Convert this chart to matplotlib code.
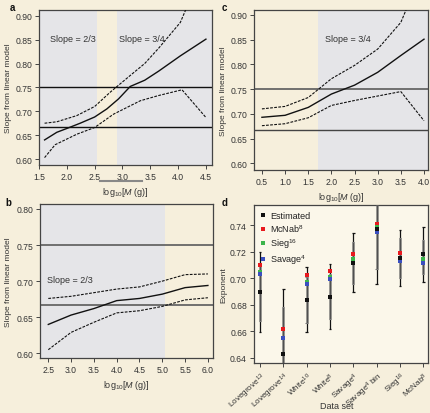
import matplotlib
matplotlib.use("Agg")
import matplotlib.pyplot as plt
from matplotlib.lines import Line2D
import numpy as np

plt.rcParams['font.family'] = ['Liberation Sans', 'DejaVu Sans']
plt.rcParams['mathtext.fontset'] = 'custom'
plt.rcParams['mathtext.rm'] = 'Liberation Sans'
plt.rcParams['mathtext.it'] = 'Liberation Sans:italic'

# ---- Panel a data ----
a_x_mid = [1.6, 1.82, 2.0, 2.24, 2.5, 2.72, 2.93, 3.14, 3.4, 3.65, 4.04, 4.5]
a_mid = [0.640, 0.656, 0.664, 0.675, 0.688, 0.705, 0.726, 0.752, 0.765, 0.784, 0.816, 0.851]
a_x_up = [1.6, 1.82, 2.18, 2.5, 2.78, 3.14, 3.4, 3.65, 4.04, 4.2]
a_up = [0.675, 0.678, 0.691, 0.710, 0.740, 0.775, 0.800, 0.832, 0.886, 0.930]
a_x_lo = [1.6, 1.79, 2.18, 2.5, 2.84, 3.32, 3.65, 4.07, 4.5]
a_lo = [0.603, 0.630, 0.652, 0.666, 0.694, 0.722, 0.733, 0.745, 0.687]

# ---- Panel b data ----
b_x = [2.5, 3.0, 3.5, 4.0, 4.5, 5.0, 5.5, 6.0]
b_mid = [0.640, 0.653, 0.662, 0.673, 0.676, 0.682, 0.691, 0.694]
b_up = [0.676, 0.679, 0.684, 0.689, 0.692, 0.700, 0.709, 0.710]
b_lo = [0.605, 0.629, 0.643, 0.656, 0.659, 0.665, 0.674, 0.677]

# ---- Panel c data ----
c_x = [0.5, 1.0, 1.5, 2.0, 2.5, 3.0, 3.5, 4.0]
c_mid = [0.693, 0.697, 0.713, 0.740, 0.758, 0.784, 0.818, 0.851]
c_x_up = [0.5, 1.0, 1.5, 2.0, 2.5, 3.0, 3.5, 3.7]
c_up = [0.710, 0.715, 0.733, 0.771, 0.798, 0.831, 0.885, 0.930]
c_lo = [0.676, 0.680, 0.692, 0.717, 0.727, 0.736, 0.745, 0.686]

# ---- Panel d data ----
d_labels = ['Lovegrove$^{13}$', 'Lovegrove$^{14}$', 'White$^{10}$', 'White$^{8}$',
            'Savage$^{4}$', 'Savage$^{4}$ bin', 'Sieg$^{16}$', 'McNab$^{8}$']
d_est = [0.6896, 0.643, 0.6838, 0.6861, 0.7115, 0.737, 0.7156, 0.7183]
d_mcnab = [0.710, 0.6617, 0.7022, 0.7055, 0.7183, 0.7415, 0.7193, 0.7183]
d_sieg = [0.705, 0.655, 0.6969, 0.7012, 0.7143, 0.7385, 0.7156, 0.7143]
d_savage = [0.7032, 0.6546, 0.6954, 0.6992, 0.7118, 0.7352, 0.713, 0.7118]
d_outer_hi = [0.720, 0.6916, 0.7083, 0.7105, 0.734, 0.778, 0.7367, 0.7392]
d_outer_lo = [0.6594, 0.594, 0.6594, 0.6617, 0.6894, 0.6954, 0.6944, 0.6974]
d_inner_hi = [0.711, 0.678, 0.701, 0.703, 0.7277, 0.767, 0.7304, 0.7294]
d_inner_lo = [0.668, 0.608, 0.6665, 0.669, 0.6957, 0.7073, 0.7005, 0.7035]

BG = '#f6efdc'
SHADE = '#e5e5e8'
FS = 6.5
TS = 6.2

fig = plt.figure(figsize=(4.31, 4.14), dpi=100, facecolor=BG)

def style(ax):
    ax.set_facecolor('none')
    for s in ax.spines.values():
        s.set_color('#444444')
        s.set_linewidth(0.9)
    ax.tick_params(labelsize=TS, length=3, width=0.7, color='#444444',
                   labelcolor='#333333', pad=2)

def curves(ax, xm, ym, xu, yu, xl, yl):
    ax.plot(xm, ym, color='#111111', lw=1.0, zorder=3)
    ax.plot(xu, yu, color='#111111', lw=0.8, ls=(0, (2.5, 1.2)), zorder=3)
    ax.plot(xl, yl, color='#111111', lw=0.8, ls=(0, (2.5, 1.2)), zorder=3)

xlabel = r'log$_{10}$[$M$ (g)]'
YL = 6

# Panel a
ax_a = fig.add_axes([0.0905, 0.599, 0.4015, 0.3744])
style(ax_a)
ax_a.set_xlim(1.5, 4.61)
ax_a.set_ylim(0.5875, 0.912)
ax_a.axvspan(1.5, 2.55, color=SHADE, zorder=0, lw=0)
ax_a.axvspan(2.9, 4.61, color=SHADE, zorder=0, lw=0)
ax_a.axhline(0.75, color='#111111', lw=1.0, zorder=2)
ax_a.axhline(2/3, color='#111111', lw=1.0, zorder=2)
curves(ax_a, a_x_mid, a_mid, a_x_up, a_up, a_x_lo, a_lo)
ax_a.set_xticks(np.arange(1.5, 4.51, 0.5))
ax_a.set_yticks(np.arange(0.60, 0.901, 0.05))
ax_a.set_xticklabels([f'{v:.1f}' for v in np.arange(1.5, 4.51, 0.5)])
ax_a.set_yticklabels([f'{v:.2f}' for v in np.arange(0.60, 0.901, 0.05)])
ax_a.text(2.1, 0.853, 'Slope = 2/3', fontsize=FS, ha='center', va='center', color='#333333')
ax_a.text(3.35, 0.853, 'Slope = 3/4', fontsize=FS, ha='center', va='center', color='#333333')
ax_a.set_xlabel(xlabel, fontsize=FS, color='#333333', labelpad=3)
ax_a.set_ylabel('Slope from linear model', fontsize=YL, color='#333333')
ax_a.yaxis.set_label_coords(-0.156, 0.5)
fig.add_artist(Line2D([100/431, 142/431], [1-182/414, 1-182/414], color='#888888', lw=1.5))

# Panel c
ax_c = fig.add_axes([0.590, 0.5877, 0.403, 0.3857])
style(ax_c)
ax_c.set_xlim(0.335, 4.086)
ax_c.set_ylim(0.587, 0.91)
ax_c.axvspan(1.72, 4.086, color=SHADE, zorder=0, lw=0)
ax_c.axhline(0.75, color='#666666', lw=1.3, zorder=2)
ax_c.axhline(2/3, color='#444444', lw=1.0, zorder=2)
curves(ax_c, c_x, c_mid, c_x_up, c_up, c_x, c_lo)
ax_c.set_xticks(np.arange(0.5, 4.01, 0.5))
ax_c.set_xticklabels([f'{v:.1f}' for v in np.arange(0.5, 4.01, 0.5)])
ax_c.set_yticks(np.arange(0.60, 0.901, 0.05))
ax_c.set_yticklabels([f'{v:.2f}' for v in np.arange(0.60, 0.901, 0.05)])
ax_c.text(2.36, 0.853, 'Slope = 3/4', fontsize=FS, ha='center', va='center', color='#333333')
ax_c.set_xlabel(xlabel, fontsize=FS, color='#333333', labelpad=3)
ax_c.set_ylabel('Slope from linear model', fontsize=YL, color='#333333')
ax_c.yaxis.set_label_coords(-0.157, 0.5)

# Panel b
ax_b = fig.add_axes([0.0928, 0.132, 0.4012, 0.373])
style(ax_b)
ax_b.set_xlim(2.318, 6.11)
ax_b.set_ylim(0.593, 0.807)
ax_b.axvspan(2.318, 5.07, color=SHADE, zorder=0, lw=0)
ax_b.axhline(0.75, color='#666666', lw=1.3, zorder=2)
ax_b.axhline(2/3, color='#666666', lw=1.3, zorder=2)
curves(ax_b, b_x, b_mid, b_x, b_up, b_x, b_lo)
ax_b.set_xticks(np.arange(2.5, 6.01, 0.5))
ax_b.set_xticklabels([f'{v:.1f}' for v in np.arange(2.5, 6.01, 0.5)])
ax_b.set_yticks(np.arange(0.60, 0.801, 0.05))
ax_b.set_yticklabels([f'{v:.2f}' for v in np.arange(0.60, 0.801, 0.05)])
ax_b.text(2.97, 0.702, 'Slope = 2/3', fontsize=FS, ha='center', va='center', color='#333333')
ax_b.set_xlabel(xlabel, fontsize=FS, color='#333333', labelpad=3)
ax_b.set_ylabel('Slope from linear model', fontsize=YL, color='#333333')
ax_b.yaxis.set_label_coords(-0.162, 0.5)

# Panel d
ax_d = fig.add_axes([0.589, 0.1208, 0.404, 0.3816])
style(ax_d)
ax_d.set_facecolor('#fbf7ea')
xs = np.arange(len(d_labels))
ax_d.set_xlim(-0.26, 7.2)
ax_d.set_ylim(0.636, 0.7555)
ax_d.vlines(xs, d_outer_lo, d_outer_hi, color='#111111', lw=0.9, zorder=2)
ax_d.hlines(d_outer_lo, xs - 0.06, xs + 0.06, color='#111111', lw=0.9, zorder=2)
ax_d.hlines(d_outer_hi, xs - 0.06, xs + 0.06, color='#111111', lw=0.9, zorder=2)
ax_d.vlines(xs, d_inner_lo, d_inner_hi, color='#666666', lw=1.8, alpha=0.75, zorder=3)
ax_d.hlines(d_inner_lo, xs - 0.05, xs + 0.05, color='#777777', lw=0.8, zorder=3)
ax_d.hlines(d_inner_hi, xs - 0.05, xs + 0.05, color='#777777', lw=0.8, zorder=3)
ms = 2.8
ax_d.plot(xs, d_mcnab, 's', color='#e8191e', ms=ms, mew=0, zorder=4, label='McNab$^{8}$')
ax_d.plot(xs, d_sieg, 's', color='#3cb44b', ms=ms, mew=0, zorder=5, label='Sieg$^{16}$')
ax_d.plot(xs, d_savage, 's', color='#3a4fc0', ms=ms, mew=0, zorder=6, label='Savage$^{4}$')
ax_d.plot(xs, d_est, 's', color='#111111', ms=ms, mew=0, zorder=7, label='Estimated')
handles, labs = ax_d.get_legend_handles_labels()
order = [3, 0, 1, 2]
leg = ax_d.legend([handles[i] for i in order], [labs[i] for i in order], loc='upper left',
                  frameon=False, fontsize=FS, handlelength=0.6, handletextpad=0.5,
                  labelspacing=0.25, borderaxespad=0.3)
for t in leg.get_texts():
    t.set_color('#222222')
ax_d.set_xticks(xs)
ax_d.set_xticklabels(d_labels, rotation=42, ha='right', rotation_mode='anchor', fontsize=5.9)
ax_d.set_yticks(np.arange(0.64, 0.741, 0.02))
ax_d.set_yticklabels([f'{v:.2f}' for v in np.arange(0.64, 0.741, 0.02)])
ax_d.set_ylabel('Exponent', fontsize=YL, color='#333333')
ax_d.yaxis.set_label_coords(-0.15, 0.5)
fig.text(337/431, 1-407/414, 'Data set', fontsize=FS, color='#333333', ha='center', va='center')

# Panel letters
for lbl, x, y in [('a', 10/431, 1-8/414), ('b', 5/431, 1-203/414),
                  ('c', 222/431, 1-8/414), ('d', 222/431, 1-203/414)]:
    fig.text(x, y, lbl, fontsize=7, fontweight='bold', ha='left', va='center', color='#111111')

fig.savefig('out.png', dpi=100, facecolor=BG)
